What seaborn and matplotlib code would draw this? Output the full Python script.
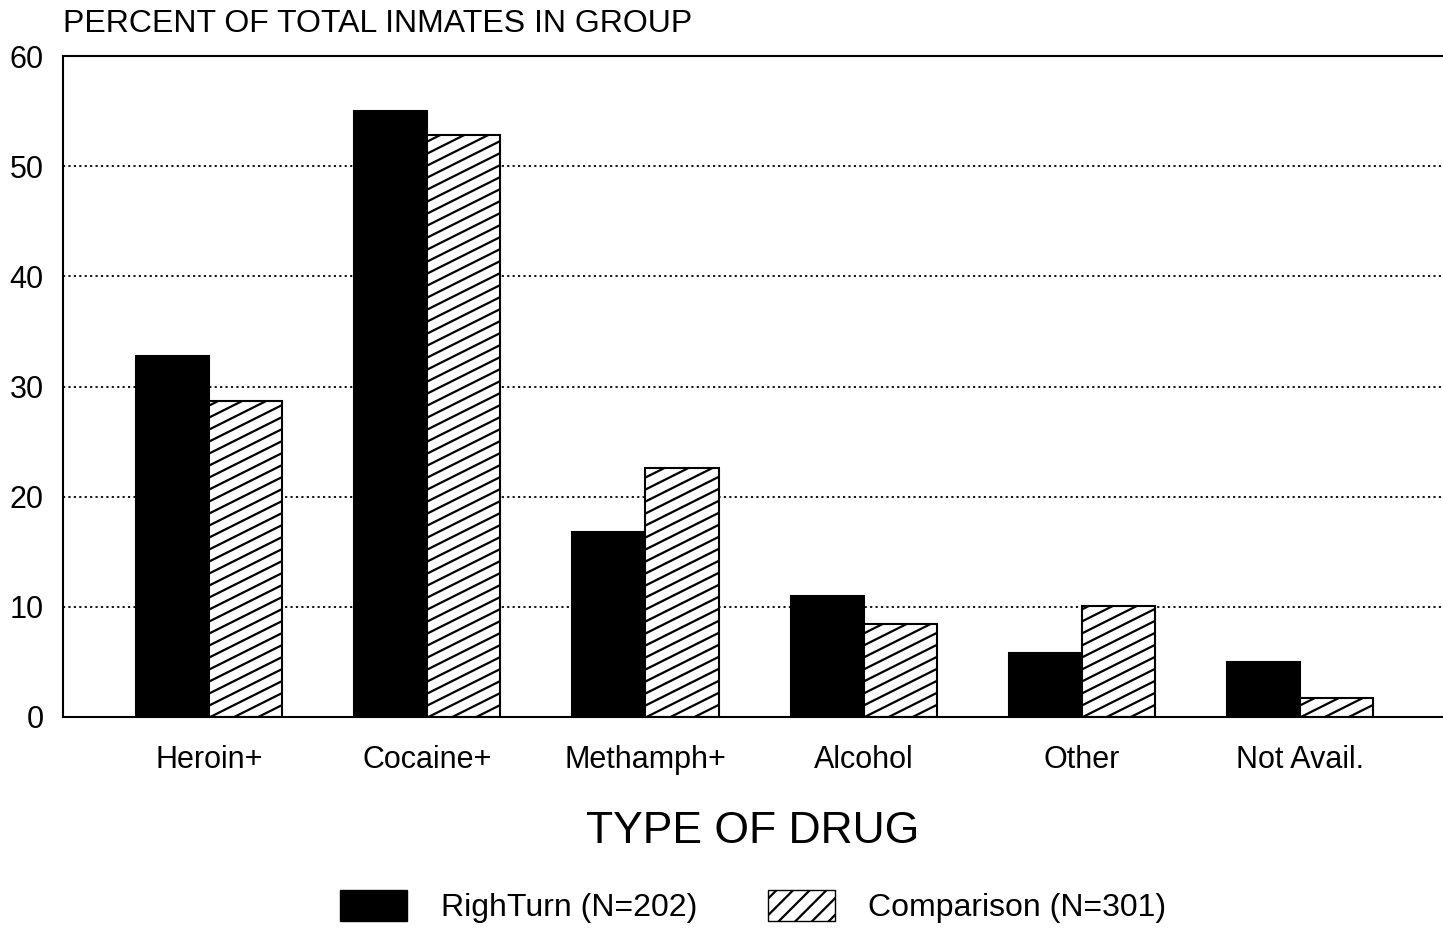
import pandas as pd
import numpy as np
import matplotlib
matplotlib.use("Agg")
import matplotlib.pyplot as plt
import seaborn as sns
from matplotlib.patches import Patch
from matplotlib.lines import Line2D
from matplotlib.transforms import IdentityTransform

# values
drugs = ["Heroin+", "Cocaine+", "Methamph+", "Alcohol", "Other", "Not Avail."]
rightturn = [32.8, 55.0, 16.8, 11.0, 5.8, 5.0]
comparison = [28.7, 52.8, 22.6, 8.4, 10.1, 1.7]
groups = ["RighTurn (N=202)", "Comparison (N=301)"]
yticks = [0, 10, 20, 30, 40, 50, 60]

df = pd.DataFrame({
    "drug": drugs * 2,
    "pct": rightturn + comparison,
    "group": [groups[0]] * len(drugs) + [groups[1]] * len(drugs),
})

sns.set_style("white")
plt.rcParams["font.family"] = ["Liberation Sans", "DejaVu Sans"]
plt.rcParams["text.color"] = "black"
plt.rcParams["xtick.color"] = "black"
plt.rcParams["ytick.color"] = "black"
plt.rcParams["axes.labelcolor"] = "black"
plt.rcParams["hatch.linewidth"] = 1.6

fig = plt.figure(figsize=(14.43, 9.31), dpi=100)
ax = fig.add_axes([0.0437, 0.2299, 0.9563, 0.7099])

sns.barplot(data=df, x="drug", y="pct", hue="group", order=drugs, hue_order=groups,
            palette=["black", "white"], width=0.67, gap=0, dodge=True,
            edgecolor="black", linewidth=1.5, errorbar=None, legend=False, ax=ax)

ax.set_xlim(-0.67, 5.656)
ax.set_ylim(0, 60)
ax.set_yticks(yticks)
ax.set_yticklabels([str(t) for t in yticks], fontsize=22)
ax.tick_params(axis="x", labelsize=22, length=0, pad=20)
ax.tick_params(axis="y", length=0, pad=14)
ax.yaxis.grid(True, linestyle=(0, (1.2, 1.8)), color="black", linewidth=1.3)
ax.set_axisbelow(True)
for s in ["left", "top", "bottom"]:
    ax.spines[s].set_color("black")
    ax.spines[s].set_linewidth(1.5)
ax.spines["right"].set_visible(False)
ax.set_ylabel("")
ax.set_xlabel("TYPE OF DRUG", fontsize=32, labelpad=26)

# shallow diagonal hatch on the comparison bars (slope ~0.5, 12 px apart)
fig.canvas.draw()
for bar in ax.containers[1]:
    x0, y0, x1, y1 = bar.get_window_extent().extents
    w = x1 - x0
    start = y0 - 0.5 * w
    while start < y1:
        ln = Line2D([x0, x1], [start, start + 0.5 * w], color="black", lw=1.6,
                    transform=IdentityTransform(), zorder=bar.get_zorder() + 0.1)
        ln.set_clip_path(bar)
        fig.add_artist(ln)
        start += 12

fig.text(0.044, 0.974, "PERCENT OF TOTAL INMATES IN GROUP", fontsize=23, va="center", ha="left")

handles = [Patch(facecolor="black", edgecolor="black"),
           Patch(facecolor="white", edgecolor="black", hatch="//")]
fig.legend(handles, groups, loc="center", bbox_to_anchor=(0.522, 0.026), ncol=2,
           frameon=False, fontsize=23, handlelength=2.1, handleheight=1.1,
           handletextpad=1.05, columnspacing=2.2)

fig.savefig("out.png", dpi=100)
